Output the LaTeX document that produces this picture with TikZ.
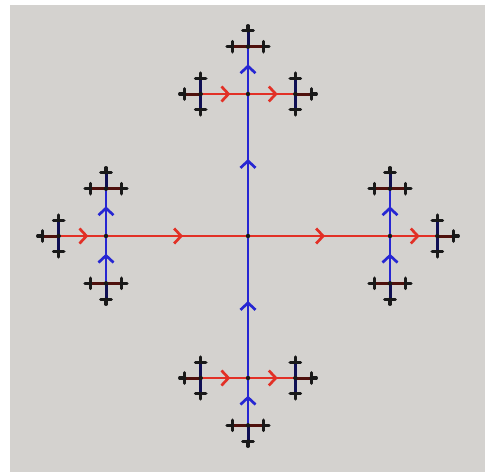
\documentclass[tikz,border=0pt]{standalone}
\usetikzlibrary{arrows.meta}
\definecolor{bggray}{RGB}{212,210,207}
\definecolor{hred}{RGB}{226,48,38}
\definecolor{vblue}{RGB}{38,38,210}
\tikzset{
  hline0/.style={hred,line width=2.7pt},
  hline1/.style={hred,line width=2.7pt},
  hline2/.style={hred!35!black,line width=3pt,line cap=round},
  hline3/.style={black!90,line width=3.2pt,line cap=round},
  vline0/.style={vblue,line width=2.7pt},
  vline1/.style={vblue,line width=2.7pt},
  vline2/.style={vblue!40!black,line width=3pt,line cap=round},
  vline3/.style={black!90,line width=3.2pt,line cap=round},
  midarrow/.style={-{Straight Barb[length=7pt,width=15pt]}},
  fxdot/.style={fill=black!90}
}
\newif\iffxdots
\newcommand\fxharm[2]{%
  \iffxdots\else
    \draw[hline#2] (\fxa,\fxb) -- (#1,\fxb);
    \ifnum#2<2
      \pgfmathsetmacro\fxm{(\fxa+#1)/2}%
      \draw[hline#2,midarrow] (\fxm-8,\fxb) -- (\fxm+6,\fxb);
    \fi
  \fi}
\newcommand\fxvarm[2]{%
  \iffxdots\else
    \draw[vline#2] (\fxa,\fxb) -- (\fxa,#1);
    \ifnum#2<2
      \pgfmathsetmacro\fxm{(\fxb+#1)/2}%
      \draw[vline#2,midarrow] (\fxa,\fxm+8) -- (\fxa,\fxm-6);
    \fi
  \fi}
\newcommand\fxcall[4]{%
  \edef\fxnext{\noexpand\fxcross{#1}{#2}{\fxs}{\the\numexpr#4+1\relax}{#3}}%
  \fxnext}
% #1 x, #2 y, #3 half length, #4 level, #5 excluded arm (1 W, 2 E, 3 N, 4 S)
\newcommand\fxcross[5]{%
  \begingroup
  \pgfmathsetmacro\fxa{#1}%
  \pgfmathsetmacro\fxb{#2}%
  \pgfmathsetmacro\fxl{#3}%
  \pgfmathsetmacro\fxs{#3/3}%
  \pgfmathsetmacro\fxW{\fxa-\fxl}%
  \pgfmathsetmacro\fxE{\fxa+\fxl}%
  \pgfmathsetmacro\fxN{\fxb-\fxl}%
  \pgfmathsetmacro\fxS{\fxb+\fxl}%
  \iffxdots
    \ifnum#4<3
      \fill[fxdot] (\fxa,\fxb) circle[radius=2.2pt];
    \fi
  \fi
  \ifnum#4<4
    \ifnum#5=1\else\fxharm{\fxW}{#4}\fxcall{\fxW}{\fxb}{2}{#4}\fi
    \ifnum#5=2\else\fxharm{\fxE}{#4}\fxcall{\fxE}{\fxb}{1}{#4}\fi
    \ifnum#5=3\else\fxvarm{\fxN}{#4}\fxcall{\fxa}{\fxN}{4}{#4}\fi
    \ifnum#5=4\else\fxvarm{\fxS}{#4}\fxcall{\fxa}{\fxS}{3}{#4}\fi
  \fi
  \endgroup}
\begin{document}
\begin{tikzpicture}[x=1pt,y=-1pt]
\useasboundingbox (0,0) rectangle (485,475);
\fill[bggray] (10,5) rectangle (485,472);
\fxdotsfalse
\fxcross{248}{236}{142}{0}{0}
\fxdotstrue
\fxcross{248}{236}{142}{0}{0}
\end{tikzpicture}
\end{document}
